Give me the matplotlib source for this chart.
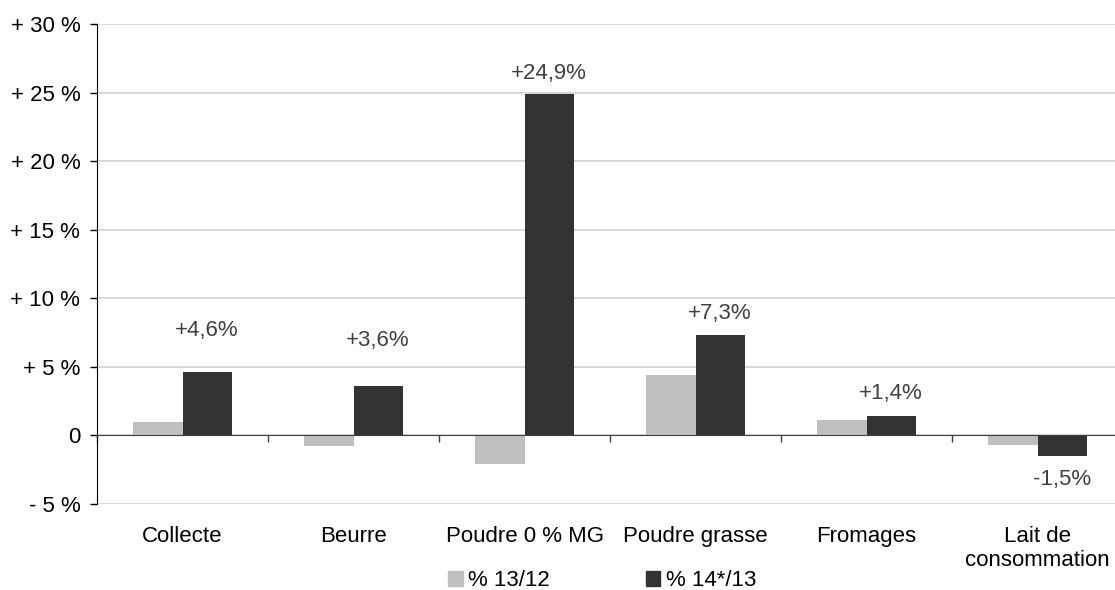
import matplotlib
matplotlib.use("Agg")
import matplotlib.pyplot as plt
import matplotlib.transforms as mtransforms
from matplotlib.patches import Patch
import numpy as np

plt.rcParams['font.family'] = ['Liberation Sans', 'DejaVu Sans']

categories = ["Collecte", "Beurre", "Poudre 0 % MG", "Poudre grasse",
              "Fromages", "Lait de\nconsommation"]
var_13_12 = [1.0, -0.8, -2.1, 4.4, 1.1, -0.7]
var_14_13 = [4.6, 3.6, 24.9, 7.3, 1.4, -1.5]
labels_14_13 = ["+4,6%", "+3,6%", "+24,9%", "+7,3%", "+1,4%", "-1,5%"]
series_names = ["% 13/12", "% 14*/13"]
yticks = [-5, 0, 5, 10, 15, 20, 25, 30]
ytick_labels = ["- 5 %", "0", "+ 5 %", "+ 10 %", "+ 15 %", "+ 20 %", "+ 25 %", "+ 30 %"]

# label offsets (points) above/below the dark bars, as placed in the source
label_offsets = [30, 33, 15, 16, 16, -17]

FS = 16
light = "#bfbfbf"
dark = "#333333"

fig = plt.figure(figsize=(11.15, 5.9), dpi=100)
ax = fig.add_axes([0.087, 0.1458, 0.9202, 0.8135])

x = np.arange(len(categories))
w = 0.287
ax.bar(x - w / 2, var_13_12, w, color=light, zorder=3)
ax.bar(x + w / 2, var_14_13, w, color=dark, zorder=3)

ax.set_xlim(-0.5, len(categories) - 0.5)
ax.set_ylim(-5, 30)
ax.set_yticks(yticks)
ax.set_yticklabels(ytick_labels, fontsize=FS)
ax.tick_params(axis='y', direction='out', length=5, width=1, pad=7)
ax.grid(axis='y', color="#d4d4d4", linewidth=1.3, zorder=0)

for s in ['top', 'right']:
    ax.spines[s].set_visible(False)
ax.spines['left'].set_color('black')
# zero line with category separator ticks
ax.spines['bottom'].set_position(('data', 0))
ax.spines['bottom'].set_color('#404040')
ax.spines['bottom'].set_zorder(4)
ax.set_xticks(np.arange(len(categories) + 1) - 0.5)
ax.set_xticklabels([])
ax.tick_params(axis='x', direction='out', length=5, width=1, color='#404040')

trans = mtransforms.blended_transform_factory(ax.transData, ax.transAxes)
for i, cat in enumerate(categories):
    ax.text(i, -0.046, cat, transform=trans, ha='center', va='top',
            fontsize=FS, linespacing=1.2)

for i, (v, lab, off) in enumerate(zip(var_14_13, labels_14_13, label_offsets)):
    ax.annotate(lab, (x[i] + w / 2, v), xytext=(0, off), textcoords='offset points',
                ha='center', va='center', fontsize=FS, color='#404040')

handles = [Patch(color=light), Patch(color=dark)]
fig.legend(handles, series_names, loc='center', bbox_to_anchor=(0.54, 0.016),
           ncol=2, frameon=False, fontsize=FS, handlelength=0.65, handleheight=0.65,
           handletextpad=0.25, columnspacing=4.3, borderpad=0, borderaxespad=0)

fig.savefig("out.png", dpi=100)
